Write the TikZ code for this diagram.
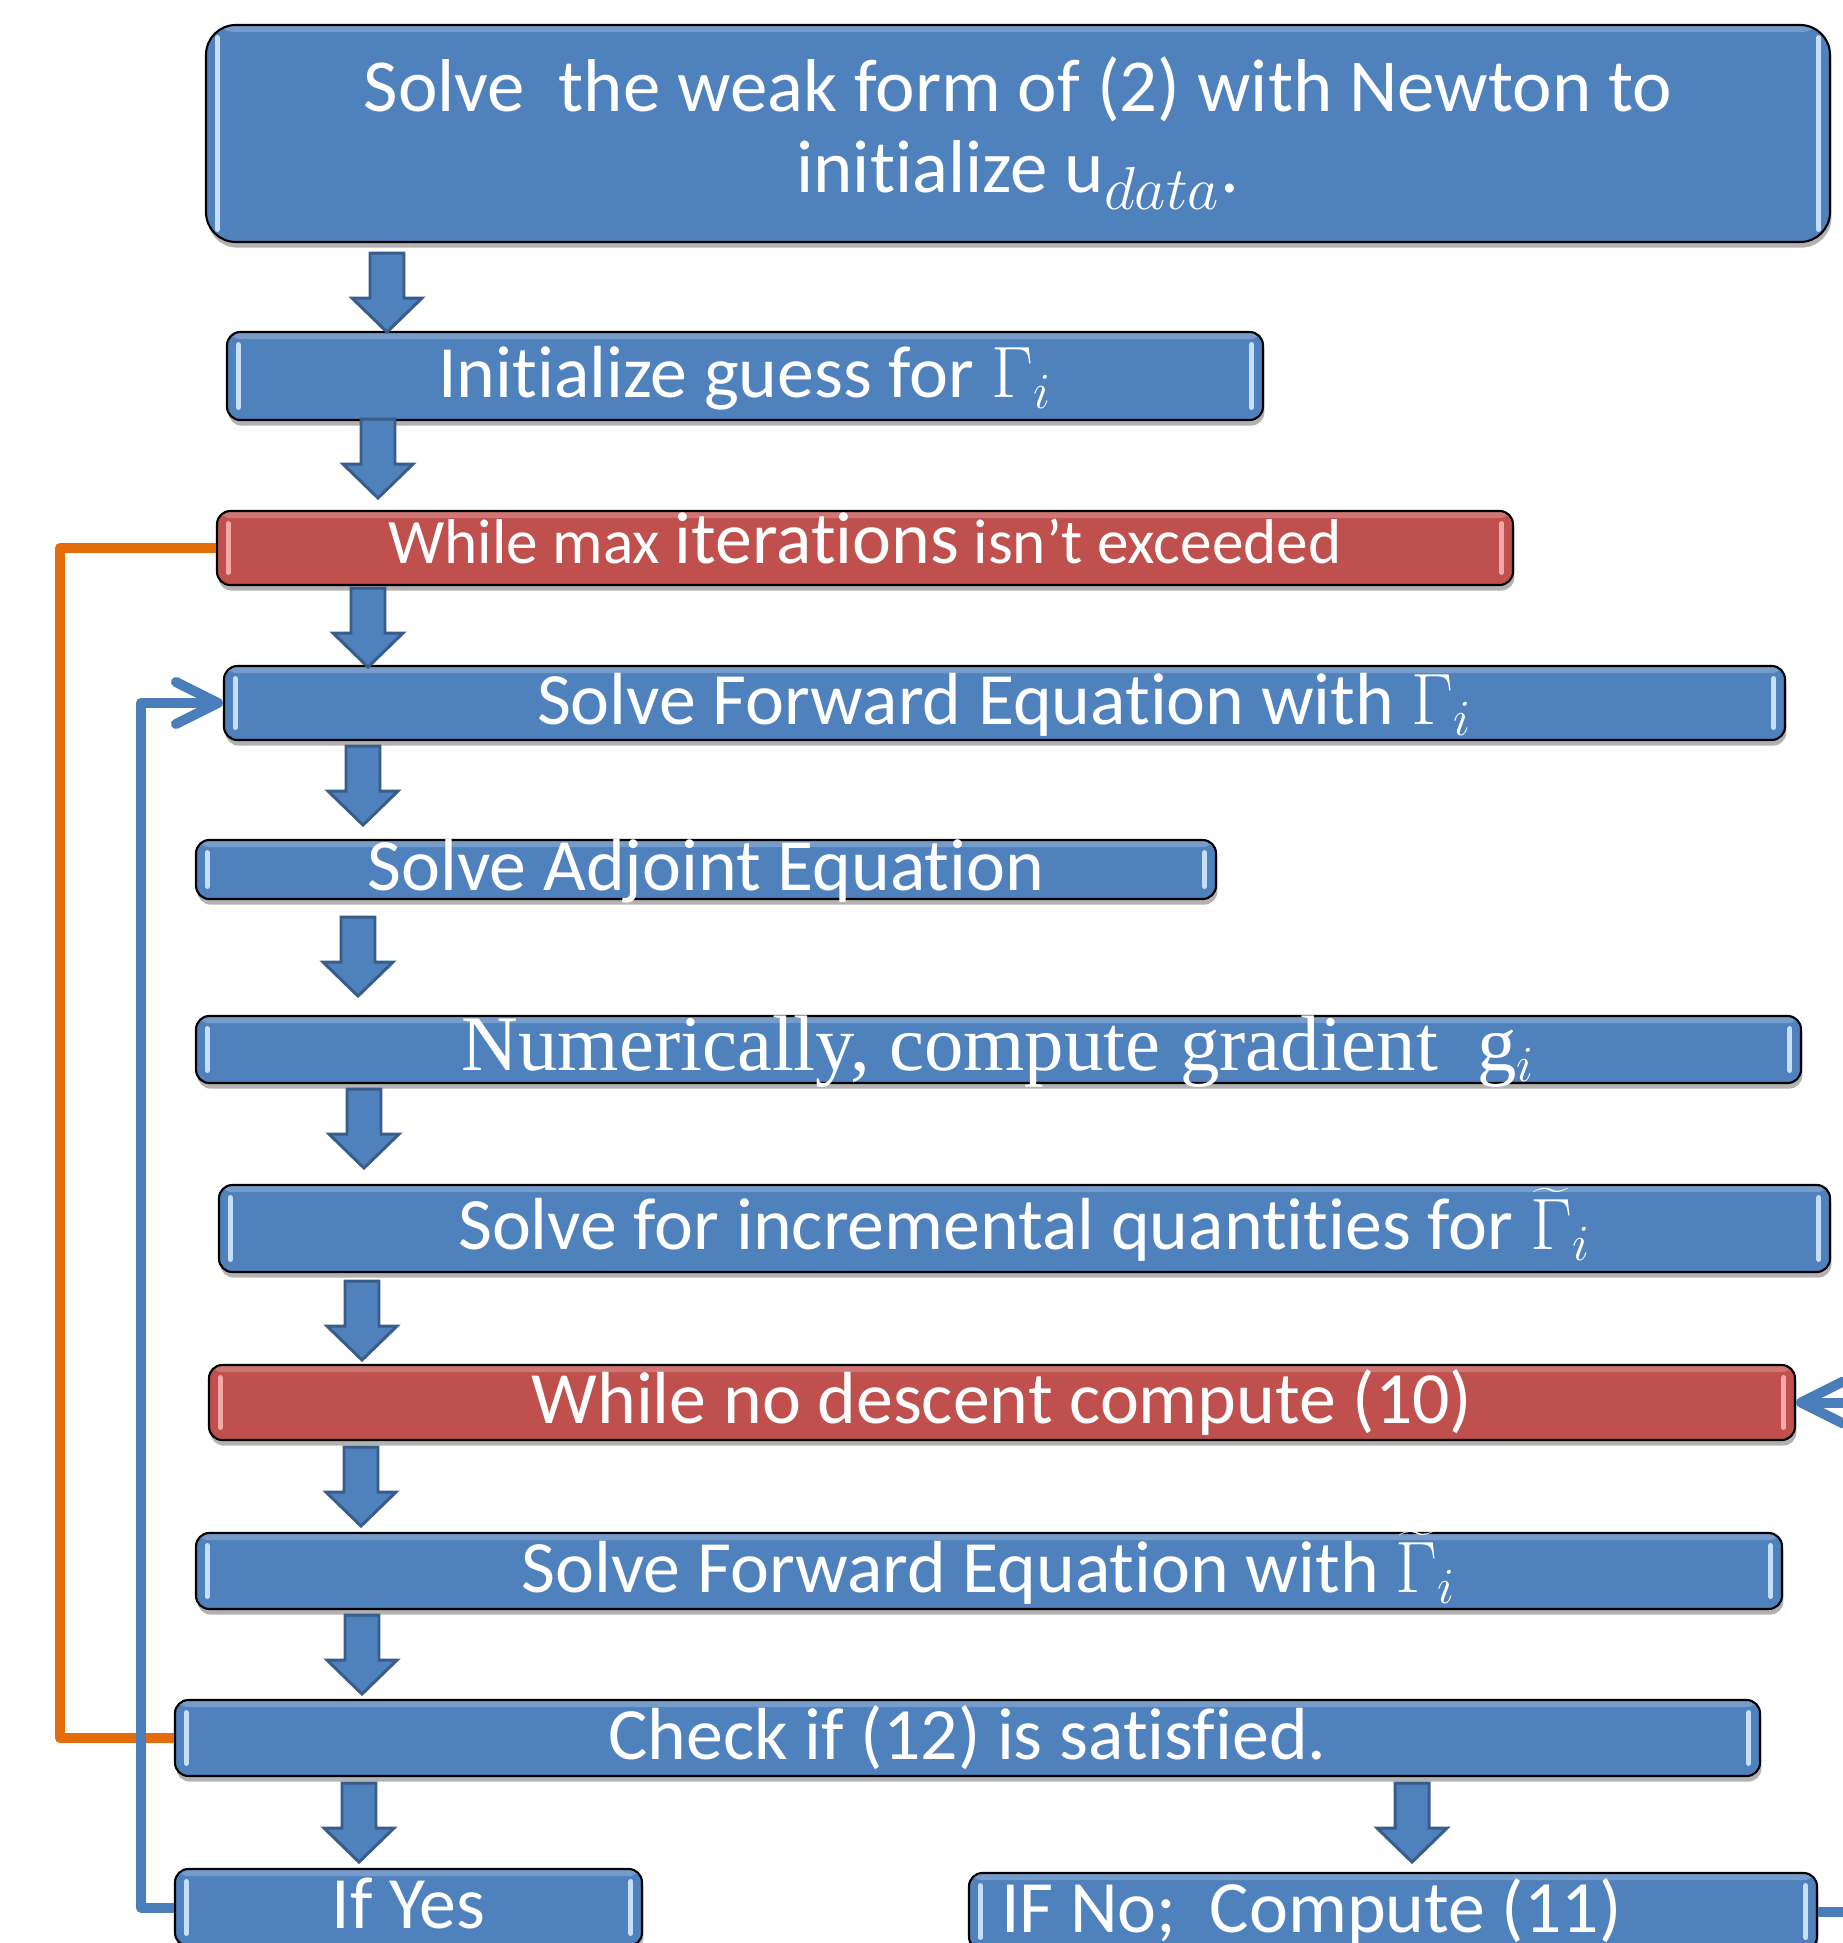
\documentclass[tikz,border=0pt]{standalone}
\usepackage{fontspec}
\setmainfont{Carlito}[Ligatures=NoCommon]
\newfontfamily\serifface{Liberation Serif}[Ligatures=NoCommon]
\usetikzlibrary{shadows}
\definecolor{boxblue}{HTML}{4F81BD}
\definecolor{boxred}{HTML}{C0504D}
\definecolor{arrowrim}{HTML}{385D8A}
\definecolor{backblue}{HTML}{4A7EBB}
\definecolor{exitorange}{HTML}{E46C0A}
\definecolor{bluegleam}{HTML}{C6DEF7}
\definecolor{redgleam}{HTML}{F4A9A7}
\tikzset{
  glint/.style    = {path picture={
                       \fill[white,opacity=0.22] (path picture bounding box.north west)
                         rectangle ([yshift=-2pt]path picture bounding box.north east);
                       \draw[#1,line width=1.5pt,line cap=round]
                         ([xshift=3.2pt,yshift=3.6pt]path picture bounding box.south west) --
                         ([xshift=3.2pt,yshift=-3.6pt]path picture bounding box.north west)
                         ([xshift=-3.2pt,yshift=3.6pt]path picture bounding box.south east) --
                         ([xshift=-3.2pt,yshift=-3.6pt]path picture bounding box.north east);}},
  boxbase/.style  = {draw=black, line width=0.6pt, rounded corners=3.8pt, fill=boxblue,
                     text=white, inner sep=0pt, font=\fontsize{21}{23}\selectfont,
                     drop shadow={shadow xshift=0.4pt,shadow yshift=-1.6pt,opacity=0.3,fill=black},
                     glint=bluegleam},
  stepbox/.style  = {boxbase, text height=12pt, text depth=0pt},
  loopbox/.style  = {stepbox, fill=boxred, glint=redgleam},
  blockarr/.style = {fill=boxblue, draw=arrowrim, line width=0.85pt, line join=miter},
  backline/.style = {backblue, line width=2.85pt, line join=round,
                     -{Straight Barb[length=4.2mm,width=4.2mm,round]}},
  exitline/.style = {exitorange, line width=2.85pt, line join=round}
}
\usetikzlibrary{arrows.meta}

\begin{document}
\begin{tikzpicture}
  \useasboundingbox (0,0) rectangle (18.43,-19.43);
  \node[boxbase, align=center, rounded corners=8.5pt, minimum width=16.24cm,
        minimum height=2.17cm, font=\fontsize{21.3}{23}\selectfont] (top) at (10.18,-1.335)
        {Solve\ \ the weak form of (2) with Newton to\\
         initialize u$_{\mbox{\fontsize{17}{17}\selectfont$data$}}$.};
  \node[stepbox, minimum width=10.36cm, minimum height=0.88cm] (init) at (7.45,-3.76)
        {Initialize guess for $\Gamma_i$};
  \node[loopbox, minimum width=12.96cm, minimum height=0.74cm, text height=8.8pt] (whilemax) at (8.65,-5.48)
        {{\fontsize{18}{20}\selectfont While max }iterations{\fontsize{18}{20}\selectfont\ isn’t exceeded}};
  \node[stepbox, minimum width=15.61cm, minimum height=0.74cm] (fwd) at (10.045,-7.03)
        {Solve Forward Equation with $\Gamma_i$};
  \node[stepbox, minimum width=10.20cm, minimum height=0.59cm] (adj) at (7.06,-8.695)
        {Solve Adjoint Equation};
  \node[stepbox, minimum width=16.05cm, minimum height=0.67cm,
        font=\fontsize{22.4}{24}\selectfont] (grad) at (9.985,-10.495)
        {\serifface Numerically, compute gradient\ \ g$_i$};
  \node[stepbox, minimum width=16.11cm, minimum height=0.87cm] (incr) at (10.245,-12.285)
        {Solve for incremental quantities for $\widetilde{\Gamma}_i$};
  \node[loopbox, minimum width=15.86cm, minimum height=0.75cm] (descent) at (10.02,-14.025)
        {While no descent compute (10)};
  \node[stepbox, minimum width=15.86cm, minimum height=0.76cm] (fwdt) at (9.89,-15.71)
        {Solve Forward Equation with $\widetilde{\Gamma}_i$};
  \node[stepbox, minimum width=15.85cm, minimum height=0.76cm] (check) at (9.675,-17.38)
        {Check if (12) is satisfied.};
  \node[stepbox, minimum width=4.67cm, minimum height=0.77cm] (yes) at (4.085,-19.075)
        {If Yes};
  \node[stepbox, minimum width=8.48cm, minimum height=0.77cm, inner xsep=0.32cm,
        text width=7.84cm, align=flush left] (ifno) at (13.93,-19.115)
        {IF No;\ \ Compute (11)};

  % block arrows under each step
  \foreach \a/\ax/\d in {top/3.87/0.10, init/3.78/-0.02, whilemax/3.68/0.02,
                         fwd/3.63/0.05, adj/3.58/0.17, grad/3.64/0.05, incr/3.62/0.08,
                         descent/3.61/0.06, fwdt/3.62/0.05, check/3.59/0.06,
                         check/14.12/0.06} {
    \path (\ax,0 |- \a.south) ++(0,-\d) coordinate (s);
    \draw[blockarr] ([xshift=-0.17cm]s) -- ++(0.34,0) -- ++(0,-0.45) -- ++(0.18,0)
      -- ++(-0.35,-0.34) -- ++(-0.35,0.34) -- ++(0.18,0) -- cycle;
  }

  % loops
  \draw[exitline] (whilemax.west) -- ++(-1.56,0) |- (check.west);
  \draw[backline] (yes.west) -- ++(-0.33,0) |- (fwd.west);
  \draw[backline] (ifno.east) -- ++(0.5,0) |- (descent.east);
\end{tikzpicture}
\end{document}
